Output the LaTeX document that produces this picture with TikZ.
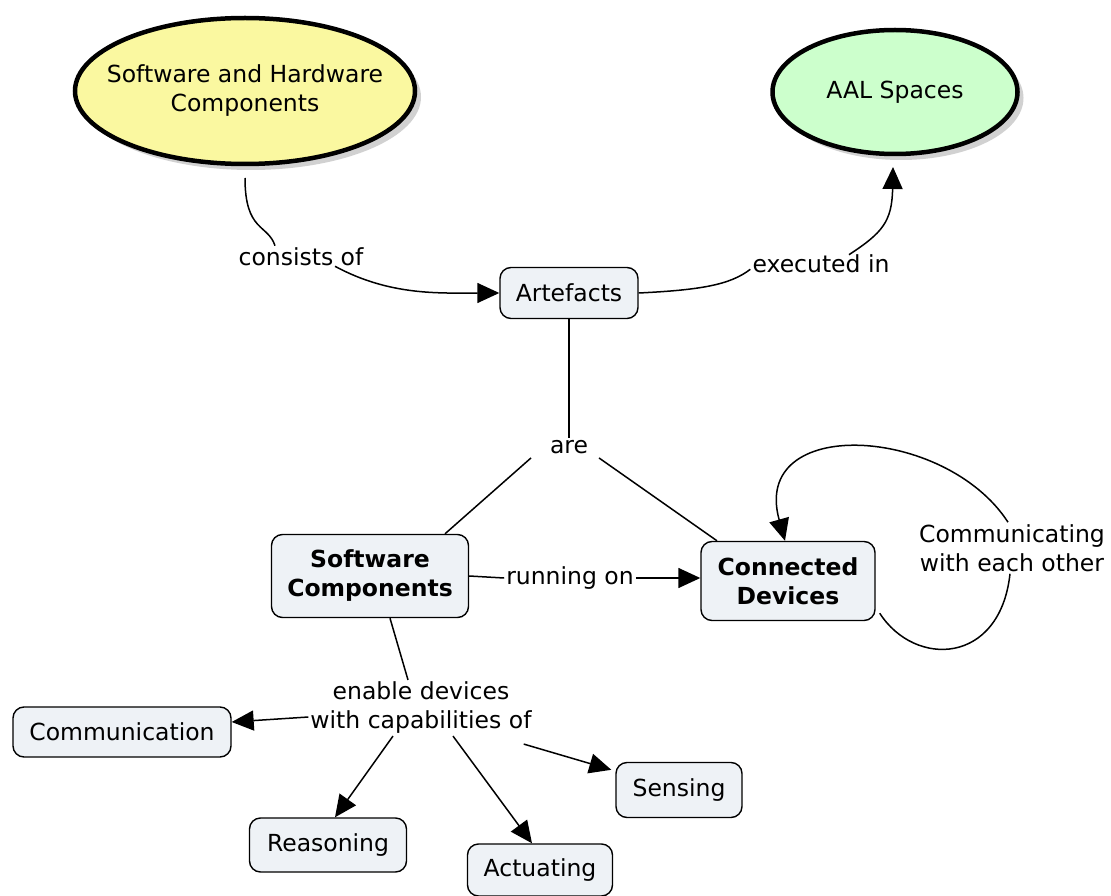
\documentclass[tikz,border=0pt]{standalone}
\usepackage{fontspec}
\setmainfont{DejaVu Sans}
\usetikzlibrary{arrows.meta,shapes.geometric,shadows}
\definecolor{hwyellow}{RGB}{250,248,160}
\definecolor{aalgreen}{RGB}{204,255,204}
\definecolor{boxfill}{RGB}{238,242,246}
\tikzset{
  every node/.style={font=\fontsize{23.5}{29}\selectfont, align=center},
  bigoval/.style={ellipse, draw=black, line width=4.5pt, inner xsep=-40pt, inner ysep=0pt,
    drop shadow={shadow xshift=6pt, shadow yshift=-6pt, fill=black!30, opacity=0.6}},
  concept/.style={rounded corners=11pt, draw=black, line width=1.4pt, fill=boxfill, inner sep=0pt},
  linklabel/.style={inner sep=2pt},
  conn/.style={line width=1.5pt},
  arr/.style={conn, -{Triangle[length=22pt,width=20pt]}},
}
\begin{document}
\begin{tikzpicture}[x=1pt,y=-1pt]
\useasboundingbox (0,0) rectangle (1111,896);

% concepts
\node[bigoval, fill=hwyellow, minimum width=340pt, minimum height=146pt] (hw) at (245,91)
  {Software and Hardware\\Components};
\node[bigoval, fill=aalgreen, minimum width=245pt, minimum height=124pt] (aal) at (895,92) {AAL Spaces};
\node[concept, minimum width=138pt, minimum height=51pt] (art) at (569,293) {Artefacts};
\node[concept, minimum width=197pt, minimum height=83pt, font=\fontsize{23.5}{29}\selectfont\bfseries] (sw) at (370,576)
  {Software\\Components};
\node[concept, minimum width=174pt, minimum height=79pt, font=\fontsize{23.5}{29}\selectfont\bfseries] (cd) at (788,581)
  {Connected\\Devices};
\node[concept, minimum width=218pt, minimum height=50pt] (comm) at (122,732) {Communication};
\node[concept, minimum width=157pt, minimum height=54pt] (reas) at (328,845) {Reasoning};
\node[concept, minimum width=145pt, minimum height=52pt] (act) at (540,870) {Actuating};
\node[concept, minimum width=126pt, minimum height=55pt] (sens) at (679,790) {Sensing};

% linking phrases
\node[linklabel] (consists) at (301,257) {consists of};
\node[linklabel] (executed) at (821,264) {executed in};
\node[linklabel] (are) at (569,447) {are};
\node[linklabel] (running) at (570,578) {running on};
\node[linklabel] (talk) at (1012,548) {Communicating\\with each other};
\node[linklabel] (enable) at (421,708) {enable devices\\with capabilities of};

% connectors
\coordinate (hwfoot) at (245,178);
\draw[conn] (hwfoot) .. controls (245,232) and (268,224) .. ([xshift=-26pt]consists.north);
\draw[arr] ([xshift=34pt,yshift=2pt]consists.south) .. controls (390,296) and (440,293) .. (art.west);

\draw[conn] (art.east) .. controls (700,290) and (730,285) .. ([yshift=6pt]executed.south west);
\coordinate (aalfoot) at (893,167);
\draw[arr] ([xshift=28pt,yshift=-2pt]executed.north) .. controls (882,233) and (892,222) .. (aalfoot);

\draw[conn] (art.south) -- (are.north);
\draw[conn] ([xshift=-38pt,yshift=-2pt]are.south) -- ([xshift=75pt]sw.north);
\draw[conn] ([xshift=30pt,yshift=-2pt]are.south) -- ([xshift=-71pt]cd.north);

\draw[conn] (sw.east) -- (running.west);
\draw[arr] (running.east) -- (running.east -| cd.west);

% self loop on the devices
\draw[conn] ([shift={(4pt,8pt)}]cd.south east) .. controls (915,668) and (1000,665) .. ([xshift=-2pt]talk.south);
\draw[arr] ([xshift=-4pt]talk.north) .. controls (945,425) and (750,415) .. ([xshift=-3pt]cd.north);

% capabilities
\draw[conn] ([xshift=20pt]sw.south) -- ([xshift=-13pt]enable.north);
\draw[arr] ([yshift=-9pt]enable.west) -- ([yshift=10pt]comm.east);
\draw[arr] ([xshift=-28pt]enable.south) -- ([xshift=7pt]reas.north);
\draw[arr] ([xshift=32pt]enable.south) -- ([xshift=-8pt]act.north);
\draw[arr] ([xshift=-10pt,yshift=-8pt]enable.south east) -- ([shift={(-4pt,-8pt)}]sens.north west);
\end{tikzpicture}
\end{document}
